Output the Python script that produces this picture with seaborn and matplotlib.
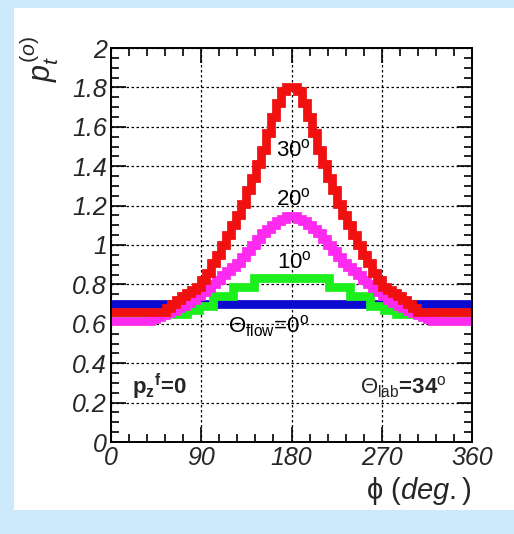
import numpy as np
import pandas as pd
import seaborn as sns
import matplotlib.pyplot as plt
from matplotlib.patches import Rectangle

# histogram contents (phi in degrees)
edges_5deg = list(range(0, 365, 5))

red_30 = [0.66, 0.66, 0.66, 0.66, 0.66, 0.66, 0.66, 0.66, 0.66, 0.66, 0.66,
          0.68, 0.70, 0.72, 0.74, 0.755, 0.77, 0.785, 0.82, 0.86, 0.91, 0.95,
          1.00, 1.05, 1.10, 1.15, 1.21, 1.28, 1.34, 1.41, 1.48, 1.57, 1.65,
          1.72, 1.78, 1.80,
          1.80, 1.78, 1.72, 1.65, 1.57, 1.48, 1.41, 1.34, 1.28, 1.21, 1.15,
          1.10, 1.05, 1.00, 0.95, 0.91, 0.86, 0.82, 0.785, 0.77, 0.755, 0.74,
          0.72, 0.70, 0.68, 0.66, 0.66, 0.66, 0.66, 0.66, 0.66, 0.66, 0.66,
          0.66, 0.66, 0.66]

pink_20 = [0.615, 0.615, 0.615, 0.615, 0.615, 0.615, 0.615, 0.615, 0.625,
           0.635, 0.645, 0.655, 0.665, 0.68, 0.69, 0.705, 0.72, 0.74, 0.76,
           0.78, 0.80, 0.82, 0.85, 0.87, 0.89, 0.91, 0.94, 0.97, 1.00, 1.03,
           1.06, 1.08, 1.10, 1.12, 1.13, 1.145,
           1.145, 1.13, 1.12, 1.10, 1.08, 1.06, 1.03, 1.00, 0.97, 0.94, 0.91,
           0.89, 0.87, 0.85, 0.82, 0.80, 0.78, 0.76, 0.74, 0.72, 0.705, 0.69,
           0.68, 0.665, 0.655, 0.645, 0.635, 0.625, 0.615, 0.615, 0.615,
           0.615, 0.615, 0.615, 0.615, 0.615]

green_edges = [0, 76, 88, 102, 122, 143, 217, 238, 258, 272, 284, 360]
green_10 = [0.65, 0.67, 0.69, 0.74, 0.785, 0.83, 0.785, 0.74, 0.69, 0.67, 0.65]

blue_edges = [0, 180, 360]
blue_0 = [0.70, 0.70]

xticks = [0, 90, 180, 270, 360]
yticks = [0, 0.2, 0.4, 0.6, 0.8, 1.0, 1.2, 1.4, 1.6, 1.8, 2.0]
ytick_labels = ['0', '0.2', '0.4', '0.6', '0.8', '1', '1.2', '1.4', '1.6', '1.8', '2']

sns.set_style("ticks")
plt.rcParams['font.family'] = ['Liberation Sans', 'DejaVu Sans']
plt.rcParams['mathtext.fontset'] = 'custom'
plt.rcParams['mathtext.rm'] = 'Liberation Sans'
plt.rcParams['mathtext.it'] = 'Liberation Sans:italic'
plt.rcParams['mathtext.bf'] = 'Liberation Sans:bold'

fig = plt.figure(figsize=(5.14, 5.34), dpi=100, facecolor='#cde9fc')
fig.patches.append(Rectangle((14 / 514, 24 / 534), 500 / 514, 502 / 534,
                             transform=fig.transFigure, facecolor='white',
                             edgecolor='none', zorder=-10))
ax = fig.add_axes([111 / 514, 92 / 534, 361 / 514, 394 / 534])
ax.set_facecolor('white')

def draw(edges, vals, color):
    e = [float(v) for v in edges]
    centers = [(a + b) / 2 for a, b in zip(e[:-1], e[1:])]
    df = pd.DataFrame({'phi': centers, 'w': vals})
    sns.histplot(data=df, x='phi', weights='w', bins=e, element='step',
                 fill=False, color=color, linewidth=6.3, ax=ax,
                 solid_joinstyle='miter', solid_capstyle='butt')

draw(blue_edges, blue_0, '#0a0ad0')
draw(green_edges, green_10, '#1cf01c')
draw(edges_5deg, pink_20, '#ff2af0')
draw(edges_5deg, red_30, '#f01010')

ax.set_xlim(0, 360)
ax.set_ylim(0, 2)
ax.set_xticks(xticks)
ax.set_xticklabels([str(t) for t in xticks])
ax.set_yticks(yticks)
ax.set_yticklabels(ytick_labels)
ax.set_xticks(np.arange(0, 361, 18), minor=True)
ax.set_yticks(np.arange(0, 2.001, 0.05), minor=True)
ax.tick_params(which='both', direction='in', top=True, right=True,
               color='black', width=1.2, labelsize=18, pad=3)
ax.tick_params(which='major', length=11)
ax.tick_params(which='minor', length=6)
for lbl in ax.get_xticklabels() + ax.get_yticklabels():
    lbl.set_fontstyle('italic')
ax.grid(True, which='major', color='black', linestyle=(0, (2, 2)), linewidth=0.9)
for s in ax.spines.values():
    s.set_linewidth(1.4)
    s.set_color('black')

ax.set_xlabel('\u03d5 $\\it{(deg.)}$', fontsize=21, labelpad=0)
ax.xaxis.set_label_coords(1.0, -0.085)
ax.xaxis.label.set_horizontalalignment('right')
ax.set_ylabel(r'$p_t^{(o)}$', fontsize=22, labelpad=0)
ax.yaxis.set_label_coords(-0.26, 1.03)
ax.yaxis.label.set_verticalalignment('top')
ax.yaxis.label.set_horizontalalignment('right')

tkw = dict(fontsize=16, ha='center', va='center', color='black')
ax.text(182, 1.48, r'30$^{\mathrm{o}}$', **tkw)
ax.text(182, 1.23, r'20$^{\mathrm{o}}$', **tkw)
ax.text(183, 0.91, r'10$^{\mathrm{o}}$', **tkw)
ax.text(157, 0.59, r'$\Theta_{\mathrm{flow}}$=0$^{\mathrm{o}}$', **tkw)
ax.text(48, 0.28, r'$\mathbf{p_z}^{\mathbf{f}}$=0', fontsize=16, ha='center',
        va='center', fontweight='bold')
ax.text(292, 0.28, r'$\Theta_{\mathrm{lab}}$=34$^{\mathrm{o}}$', fontsize=16,
        ha='center', va='center', fontweight='bold')

fig.savefig('out.png', dpi=100, facecolor=fig.get_facecolor())
